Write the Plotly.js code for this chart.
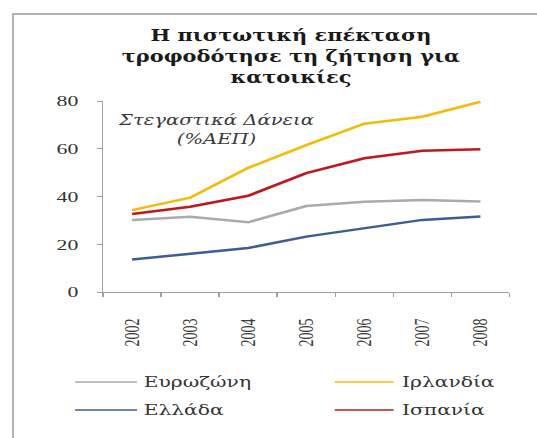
<!DOCTYPE html>
<html>
<head>
<meta charset="utf-8">
<script src="https://cdn.plot.ly/plotly-3.0.1.min.js"></script>
<style>
html, body { margin: 0; padding: 0; background: #ffffff; overflow: hidden; }
#chart { position: absolute; left: 0; top: 0; width: 370px; height: 438px; transform: scaleX(1.4514); transform-origin: 0 0; }
#frame { position: absolute; left: 12px; top: 13px; width: 540px; height: 440px; border-left: 2px solid #b2b2b2; border-top: 2px solid #b2b2b2; z-index: 5; pointer-events: none; }
</style>
</head>
<body>
<div id="chart"></div>
<div id="frame"></div>
<script>
const years = ['2002', '2003', '2004', '2005', '2006', '2007', '2008'];
const eurozone = [30.2, 31.5, 29.2, 36.0, 37.8, 38.5, 37.9];
const ireland = [34.3, 39.5, 52.0, 61.5, 70.5, 73.4, 79.7];
const greece = [13.6, 15.9, 18.4, 23.2, 26.8, 30.2, 31.6];
const spain = [32.7, 35.7, 40.3, 49.8, 56.0, 59.2, 59.8];
const seriesNames = ['Ευρωζώνη', 'Ιρλανδία', 'Ελλάδα', 'Ισπανία'];
const seriesColors = ['#ababab', '#f2bd0a', '#3d5c98', '#c0181c'];
const seriesValues = [eurozone, ireland, greece, spain];
const titleText = 'Η πιστωτική επέκταση<br>τροφοδότησε τη ζήτηση για<br>κατοικίες';
const noteText = 'Στεγαστικά Δάνεια<br>(%ΑΕΠ)';

const SERIF = 'DejaVu Serif Condensed, DejaVu Serif, serif';
const SX = 1.4514;           // horizontal stretch of the reference picture
const W = 370, H = 438;
const L = 103 / SX, R = W - 510 / SX, T = 101, B = H - 292;
const PW = W - L - R, PH = H - T - B;
const px = v => (v / SX - L) / PW;   // true page x -> paper x
const py = v => (H - B - v) / PH;    // true page y -> paper y

const traces = seriesValues.map((vals, i) => ({
  type: 'scatter', mode: 'lines', x: years, y: vals, name: seriesNames[i],
  line: { color: seriesColors[i], width: 2.5 }, showlegend: false
}));

// hand-placed legend (two columns, row-major like the reference)
const legendPos = [
  { x0: 75, x1: 137, tx: 141, y: 382 },
  { x0: 335, x1: 394, tx: 400, y: 382 },
  { x0: 75, x1: 137, tx: 141, y: 410 },
  { x0: 335, x1: 394, tx: 400, y: 410 }
];
const shapes = legendPos.map((p, i) => ({
  type: 'line', xref: 'paper', yref: 'paper',
  x0: px(p.x0), x1: px(p.x1), y0: py(p.y), y1: py(p.y),
  line: { color: seriesColors[i], width: 1.6 }
}));
const legendLabels = legendPos.map((p, i) => ({
  text: seriesNames[i], xref: 'paper', yref: 'paper', x: px(p.tx), y: py(p.y),
  xanchor: 'left', yanchor: 'middle', showarrow: false,
  font: { family: SERIF, size: 15.5, color: '#333333' }
}));

const layout = {
  width: W, height: H,
  margin: { l: L, r: R, t: T, b: B, pad: 0 },
  paper_bgcolor: '#ffffff', plot_bgcolor: '#ffffff',
  showlegend: false,
  title: {
    text: '<b>' + titleText + '</b>',
    x: 291 / SX / W, xanchor: 'center', xref: 'container',
    y: 1 - 41 / H, yanchor: 'top', yref: 'container',
    font: { family: SERIF, size: 16, color: '#1a1a1a' }
  },
  xaxis: {
    type: 'category', tickson: 'boundaries', ticks: 'outside', ticklen: 4, tickcolor: '#a0a0a0',
    showline: true, linecolor: '#a0a0a0', linewidth: 1, showgrid: false, zeroline: false,
    tickangle: -90, ticklabelstandoff: 20,
    tickfont: { family: 'Liberation Serif, serif', size: 14, color: '#3a3a3a' },
    range: [-0.5, 6.5], fixedrange: true
  },
  yaxis: {
    range: [0, 80], dtick: 20, ticks: 'outside', ticklen: 3, tickcolor: '#a0a0a0',
    showline: true, linecolor: '#a0a0a0', linewidth: 1, showgrid: false, zeroline: false,
    tickfont: { family: 'Liberation Serif, serif', size: 15, color: '#333333' },
    ticklabelstandoff: 10, fixedrange: true
  },
  shapes: shapes,
  annotations: [{
    text: '<i>' + noteText + '</i>',
    xref: 'paper', yref: 'paper', x: px(216), y: py(109),
    xanchor: 'center', yanchor: 'top', showarrow: false, align: 'center',
    font: { family: SERIF, size: 15, color: '#3a3a3a' }
  }].concat(legendLabels)
};

Plotly.newPlot('chart', traces, layout, { displayModeBar: false, staticPlot: true });
</script>
</body>
</html>
